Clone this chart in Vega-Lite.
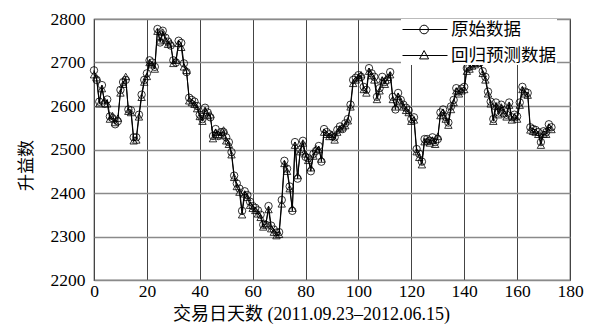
{
  "$schema": "https://vega.github.io/schema/vega-lite/v6.json",
  "autosize": "none",
  "width": 476,
  "height": 261,
  "padding": {"left": 94, "top": 19, "right": 30, "bottom": 51},
  "background": "white",
  "config": {
    "view": {"stroke": "#333", "strokeWidth": 1.2},
    "axis": {"domain": false, "ticks": false, "labelColor": "black", "titleColor": "black", "titleFontWeight": "normal"}
  },
  "data": {"values": [
{"d":0,"原始数据":2682,"回归预测数据":2672},{"d":1,"原始数据":2660,"回归预测数据":2665},{"d":2,"原始数据":2610,"回归预测数据":2605},{"d":3,"原始数据":2648,"回归预测数据":2640},{"d":4,"原始数据":2605,"回归预测数据":2612},{"d":5,"原始数据":2615,"回归预测数据":2605},{"d":6,"原始数据":2576,"回归预测数据":2570},{"d":7,"原始数据":2572,"回归预测数据":2578},{"d":8,"原始数据":2558,"回归预测数据":2562},{"d":9,"原始数据":2565,"回归预测数据":2572},
{"d":10,"原始数据":2637,"回归预测数据":2630},{"d":11,"原始数据":2655,"回归预测数据":2650},{"d":12,"原始数据":2660,"回归预测数据":2668},{"d":13,"原始数据":2592,"回归预测数据":2588},{"d":14,"原始数据":2590,"回归预测数据":2585},{"d":15,"原始数据":2528,"回归预测数据":2520},{"d":16,"原始数据":2528,"回归预测数据":2522},{"d":17,"原始数据":2580,"回归预测数据":2575},{"d":18,"原始数据":2626,"回归预测数据":2620},{"d":19,"原始数据":2660,"回归预测数据":2655},
{"d":20,"原始数据":2675,"回归预测数据":2668},{"d":21,"原始数据":2705,"回归预测数据":2700},{"d":22,"原始数据":2700,"回归预测数据":2695},{"d":23,"原始数据":2690,"回归预测数据":2685},{"d":24,"原始数据":2777,"回归预测数据":2772},{"d":25,"原始数据":2746,"回归预测数据":2750},{"d":26,"原始数据":2773,"回归预测数据":2770},{"d":27,"原始数据":2757,"回归预测数据":2752},{"d":28,"原始数据":2748,"回归预测数据":2742},{"d":29,"原始数据":2739,"回归预测数据":2745},
{"d":30,"原始数据":2705,"回归预测数据":2698},{"d":31,"原始数据":2700,"回归预测数据":2705},{"d":32,"原始数据":2750,"回归预测数据":2744},{"d":33,"原始数据":2745,"回归预测数据":2735},{"d":34,"原始数据":2698,"回归预测数据":2690},{"d":35,"原始数据":2678,"回归预测数据":2682},{"d":36,"原始数据":2619,"回归预测数据":2612},{"d":37,"原始数据":2614,"回归预测数据":2608},{"d":38,"原始数据":2610,"回归预测数据":2604},{"d":39,"原始数据":2600,"回归预测数据":2594},
{"d":40,"原始数据":2580,"回归预测数据":2576},{"d":41,"原始数据":2570,"回归预测数据":2565},{"d":42,"原始数据":2596,"回归预测数据":2590},{"d":43,"原始数据":2585,"回归预测数据":2578},{"d":44,"原始数据":2574,"回归预测数据":2580},{"d":45,"原始数据":2531,"回归预测数据":2525},{"d":46,"原始数据":2547,"回归预测数据":2540},{"d":47,"原始数据":2531,"回归预测数据":2535},{"d":48,"原始数据":2540,"回归预测数据":2532},{"d":49,"原始数据":2540,"回归预测数据":2545},
{"d":50,"原始数据":2528,"回归预测数据":2520},{"d":51,"原始数据":2517,"回归预测数据":2512},{"d":52,"原始数据":2494,"回归预测数据":2488},{"d":53,"原始数据":2440,"回归预测数据":2436},{"d":54,"原始数据":2422,"回归预测数据":2415},{"d":55,"原始数据":2410,"回归预测数据":2402},{"d":56,"原始数据":2359,"回归预测数据":2350},{"d":57,"原始数据":2404,"回归预测数据":2398},{"d":58,"原始数据":2395,"回归预测数据":2390},{"d":59,"原始数据":2380,"回归预测数据":2372},
{"d":60,"原始数据":2370,"回归预测数据":2365},{"d":61,"原始数据":2366,"回归预测数据":2360},{"d":62,"原始数据":2360,"回归预测数据":2352},{"d":63,"原始数据":2350,"回归预测数据":2344},{"d":64,"原始数据":2327,"回归预测数据":2322},{"d":65,"原始数据":2327,"回归预测数据":2330},{"d":66,"原始数据":2370,"回归预测数据":2362},{"d":67,"原始数据":2325,"回归预测数据":2318},{"d":68,"原始数据":2316,"回归预测数据":2310},{"d":69,"原始数据":2309,"回归预测数据":2302},
{"d":70,"原始数据":2310,"回归预测数据":2305},{"d":71,"原始数据":2384,"回归预测数据":2375},{"d":72,"原始数据":2474,"回归预测数据":2468},{"d":73,"原始数据":2456,"回归预测数据":2450},{"d":74,"原始数据":2415,"回归预测数据":2410},{"d":75,"原始数据":2359,"回归预测数据":2365},{"d":76,"原始数据":2517,"回归预测数据":2510},{"d":77,"原始数据":2433,"回归预测数据":2440},{"d":78,"原始数据":2500,"回归预测数据":2495},{"d":79,"原始数据":2520,"回归预测数据":2515},
{"d":80,"原始数据":2483,"回归预测数据":2490},{"d":81,"原始数据":2480,"回归预测数据":2475},{"d":82,"原始数据":2450,"回归预测数据":2458},{"d":83,"原始数据":2490,"回归预测数据":2485},{"d":84,"原始数据":2497,"回归预测数据":2502},{"d":85,"原始数据":2508,"回归预测数据":2500},{"d":86,"原始数据":2472,"回归预测数据":2478},{"d":87,"原始数据":2547,"回归预测数据":2540},{"d":88,"原始数据":2540,"回归预测数据":2535},{"d":89,"原始数据":2535,"回归预测数据":2530},
{"d":90,"原始数据":2530,"回归预测数据":2535},{"d":91,"原始数据":2528,"回归预测数据":2522},{"d":92,"原始数据":2545,"回归预测数据":2540},{"d":93,"原始数据":2553,"回归预测数据":2548},{"d":94,"原始数据":2547,"回归预测数据":2552},{"d":95,"原始数据":2560,"回归预测数据":2555},{"d":96,"原始数据":2570,"回归预测数据":2566},{"d":97,"原始数据":2603,"回归预测数据":2598},{"d":98,"原始数据":2660,"回归预测数据":2652},{"d":99,"原始数据":2665,"回归预测数据":2660},
{"d":100,"原始数据":2671,"回归预测数据":2665},{"d":101,"原始数据":2667,"回归预测数据":2672},{"d":102,"原始数据":2644,"回归预测数据":2638},{"d":103,"原始数据":2637,"回归预测数据":2630},{"d":104,"原始数据":2687,"回归预测数据":2680},{"d":105,"原始数据":2675,"回归预测数据":2670},{"d":106,"原始数据":2667,"回归预测数据":2660},{"d":107,"原始数据":2621,"回归预测数据":2615},{"d":108,"原始数据":2641,"回归预测数据":2635},{"d":109,"原始数据":2667,"回归预测数据":2660},
{"d":110,"原始数据":2655,"回归预测数据":2650},{"d":111,"原始数据":2660,"回归预测数据":2666},{"d":112,"原始数据":2678,"回归预测数据":2672},{"d":113,"原始数据":2621,"回归预测数据":2615},{"d":114,"原始数据":2592,"回归预测数据":2598},{"d":115,"原始数据":2630,"回归预测数据":2622},{"d":116,"原始数据":2614,"回归预测数据":2610},{"d":117,"原始数据":2603,"回归预测数据":2598},{"d":118,"原始数据":2596,"回归预测数据":2590},{"d":119,"原始数据":2590,"回归预测数据":2585},
{"d":120,"原始数据":2570,"回归预测数据":2565},{"d":121,"原始数据":2574,"回归预测数据":2568},{"d":122,"原始数据":2501,"回归预测数据":2495},{"d":123,"原始数据":2490,"回归预测数据":2482},{"d":124,"原始数据":2472,"回归预测数据":2465},{"d":125,"原始数据":2524,"回归预测数据":2518},{"d":126,"原始数据":2524,"回归预测数据":2520},{"d":127,"原始数据":2520,"回归预测数据":2515},{"d":128,"原始数据":2528,"回归预测数据":2522},{"d":129,"原始数据":2517,"回归预测数据":2512},
{"d":130,"原始数据":2524,"回归预测数据":2530},{"d":131,"原始数据":2585,"回归预测数据":2578},{"d":132,"原始数据":2592,"回归预测数据":2586},{"d":133,"原始数据":2575,"回归预测数据":2570},{"d":134,"原始数据":2562,"回归预测数据":2556},{"d":135,"原始数据":2599,"回归预测数据":2592},{"d":136,"原始数据":2614,"回归预测数据":2608},{"d":137,"原始数据":2641,"回归预测数据":2635},{"d":138,"原始数据":2633,"回归预测数据":2628},{"d":139,"原始数据":2640,"回归预测数据":2635},
{"d":140,"原始数据":2644,"回归预测数据":2638},{"d":141,"原始数据":2687,"回归预测数据":2680},{"d":142,"原始数据":2690,"回归预测数据":2685},{"d":143,"原始数据":2698,"回归预测数据":2692},{"d":144,"原始数据":2700,"回归预测数据":2695},{"d":145,"原始数据":2702,"回归预测数据":2698},{"d":146,"原始数据":2700,"回归预测数据":2705},{"d":147,"原始数据":2680,"回归预测数据":2675},{"d":148,"原始数据":2667,"回归预测数据":2660},{"d":149,"原始数据":2633,"回归预测数据":2628},
{"d":150,"原始数据":2610,"回归预测数据":2605},{"d":151,"原始数据":2570,"回归预测数据":2565},{"d":152,"原始数据":2608,"回归预测数据":2600},{"d":153,"原始数据":2585,"回归预测数据":2580},{"d":154,"原始数据":2603,"回归预测数据":2598},{"d":155,"原始数据":2590,"回归预测数据":2584},{"d":156,"原始数据":2580,"回归预测数据":2575},{"d":157,"原始数据":2608,"回归预测数据":2602},{"d":158,"原始数据":2574,"回归预测数据":2568},{"d":159,"原始数据":2580,"回归预测数据":2575},
{"d":160,"原始数据":2576,"回归预测数据":2570},{"d":161,"原始数据":2608,"回归预测数据":2602},{"d":162,"原始数据":2644,"回归预测数据":2638},{"d":163,"原始数据":2633,"回归预测数据":2628},{"d":164,"原始数据":2630,"回归预测数据":2625},{"d":165,"原始数据":2551,"回归预测数据":2545},{"d":166,"原始数据":2547,"回归预测数据":2542},{"d":167,"原始数据":2545,"回归预测数据":2540},{"d":168,"原始数据":2540,"回归预测数据":2535},{"d":169,"原始数据":2517,"回归预测数据":2510},
{"d":170,"原始数据":2542,"回归预测数据":2536},{"d":171,"原始数据":2540,"回归预测数据":2535},{"d":172,"原始数据":2558,"回归预测数据":2552},{"d":173,"原始数据":2551,"回归预测数据":2546}
  ]},
  "transform": [{"fold": ["原始数据", "回归预测数据"], "as": ["s", "v"]}],
  "encoding": {
    "x": {"field": "d", "type": "quantitative", "scale": {"domain": [0, 180], "nice": false, "zero": false},
      "axis": {"values": [0,20,40,60,80,100,120,140,160,180], "grid": true, "gridColor": "#444", "gridWidth": 1, "labelPadding": 2, "labelFlush": false, "format": "d",
        "labelFont": "Liberation Serif", "labelFontSize": 17.5,
        "title": "交易日天数 (2011.09.23–2012.06.15)", "titleFont": "Liberation Serif, Noto Sans CJK SC", "titleFontSize": 18, "titlePadding": 6, "titleX": 217}},
    "y": {"field": "v", "type": "quantitative", "scale": {"domain": [2200, 2800], "nice": false, "zero": false},
      "axis": {"values": [2200,2300,2400,2500,2600,2700,2800], "grid": true, "gridColor": "#8a8a8a", "gridWidth": 1.5, "labelPadding": 9, "format": "d",
        "labelFont": "Liberation Serif", "labelFontSize": 17.5,
        "title": "升益数", "titleFont": "Noto Sans CJK SC", "titleFontSize": 17, "titleX": -68, "titleY": 146, "titleBaseline": "middle", "titleAngle": -90}}
  },
  "layer": [
    {"mark": {"type": "line", "color": "black", "strokeWidth": 1},
     "encoding": {"detail": {"field": "s", "type": "nominal"}}},
    {"mark": {"type": "point", "filled": false, "color": "black", "strokeWidth": 0.8, "size": 55, "opacity": 1},
     "encoding": {"shape": {"field": "s", "type": "nominal",
       "scale": {"domain": ["原始数据", "回归预测数据"], "range": ["circle", "triangle-up"]}, "legend": null}}},
    {"transform": [{"filter": "datum.d === 0"}],
     "mark": {"type": "point", "filled": false, "color": "black", "strokeWidth": 1, "size": 324, "opacity": 0},
     "encoding": {"shape": {"field": "s", "type": "nominal",
       "scale": {"domain": ["原始数据", "回归预测数据"], "range": ["M-1,0H4M0.92,0A0.48,0.48 0 1,0 1.88,0A0.48,0.48 0 1,0 0.92,0", "M-1,0H4M1.4,-0.55L1.9,0.38L0.9,0.38Z"]},
       "legend": {"title": null, "orient": "none", "legendX": 307, "legendY": 0, "fillColor": "white", "padding": 1,
         "symbolSize": 324, "symbolStrokeWidth": 1, "symbolStrokeColor": "black", "symbolFillColor": "transparent", "symbolOpacity": 1,
         "labelFont": "Noto Sans CJK SC", "labelFontSize": 17.5, "labelColor": "black", "labelOffset": 30, "rowPadding": 8}}}}
  ],
  "resolve": {"scale": {"shape": "independent"}, "legend": {"shape": "independent"}}
}
